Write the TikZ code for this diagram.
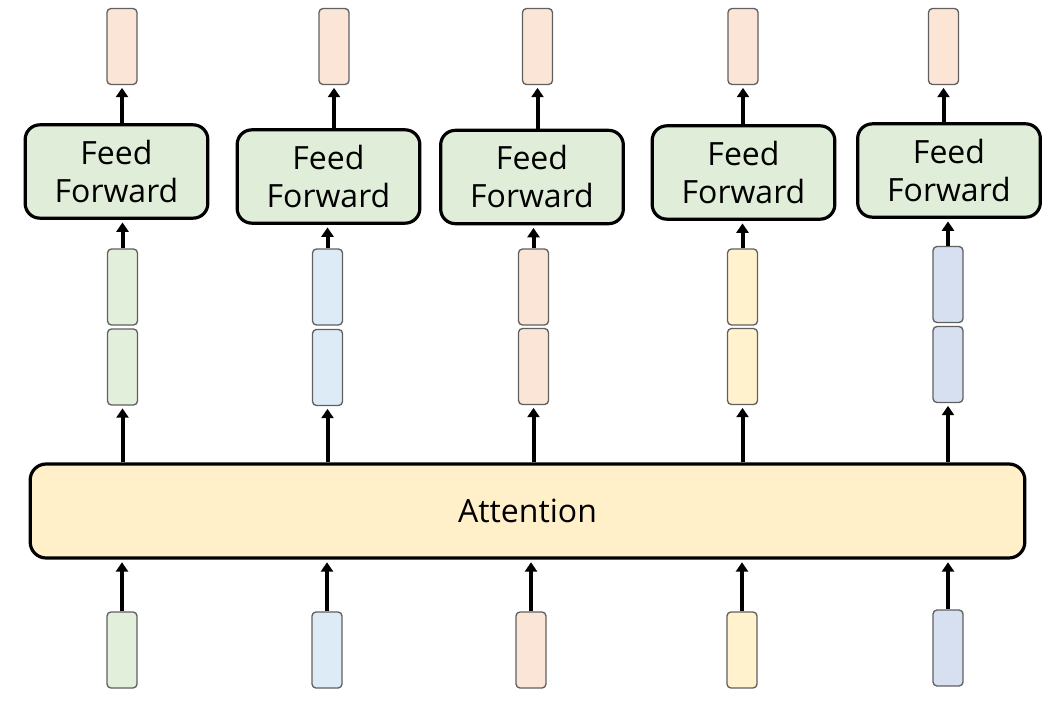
\documentclass[tikz,border=0pt]{standalone}
\usepackage{fontspec}
\setmainfont{Open Sans}
\usetikzlibrary{arrows.meta}
\definecolor{cgreen}{HTML}{E2EFDA}
\definecolor{cblue}{HTML}{DDEBF7}
\definecolor{csalmon}{HTML}{FBE5D6}
\definecolor{cyellow}{HTML}{FFF2CC}
\definecolor{cgblue}{HTML}{D6E0F1}
\definecolor{ffgreen}{HTML}{E0EDD8}
\definecolor{attyellow}{HTML}{FFF0C9}
\definecolor{vborder}{HTML}{606060}
\tikzset{
  vec/.style={draw=vborder, line width=1pt, rounded corners=3pt, minimum width=22.5pt, minimum height=57pt, inner sep=0pt},
  ffbox/.style={draw=black, line width=2.4pt, rounded corners=11pt, fill=ffgreen, minimum width=137pt, minimum height=70pt, inner sep=0pt, align=center, font=\fontsize{24}{28.5}\selectfont},
  attbox/.style={draw=black, line width=2.4pt, rounded corners=12pt, fill=attyellow, minimum width=746pt, minimum height=70.5pt, inner sep=0pt, font=\fontsize{24}{28.5}\selectfont},
  arr/.style={line width=3pt, -{Triangle[width=9pt,length=7pt]}, shorten >=2pt}
}
\begin{document}
\begin{tikzpicture}[x=0.75pt,y=-0.75pt]
\useasboundingbox (0,0) rectangle (1046,706);
% attention
\node[attbox] (att) at (527.5,511) {Attention};
% column 1
\node[vec, fill=csalmon] (t1) at (122,46.5) {};
\node[ffbox] (f1) at (116.5,171.5) {Feed\\Forward};
\node[vec, fill=cgreen] (u1) at (122.5,287) {};
\node[vec, fill=cgreen] (l1) at (122.5,367) {};
\node[vec, fill=cgreen] (b1) at (122,650) {};
% column 2
\node[vec, fill=csalmon] (t2) at (334,46.5) {};
\node[ffbox] (f2) at (328.5,176.5) {Feed\\Forward};
\node[vec, fill=cblue] (u2) at (327.5,287) {};
\node[vec, fill=cblue] (l2) at (327.5,367.5) {};
\node[vec, fill=cblue] (b2) at (327,650) {};
% column 3
\node[vec, fill=csalmon] (t3) at (537.5,46.5) {};
\node[ffbox] (f3) at (532,177) {Feed\\Forward};
\node[vec, fill=csalmon] (u3) at (533.5,287) {};
\node[vec, fill=csalmon] (l3) at (533.5,366.5) {};
\node[vec, fill=csalmon] (b3) at (531,650) {};
% column 4
\node[vec, fill=csalmon] (t4) at (743,46.5) {};
\node[ffbox] (f4) at (743.5,172.5) {Feed\\Forward};
\node[vec, fill=cyellow] (u4) at (742.5,287) {};
\node[vec, fill=cyellow] (l4) at (742.5,366.5) {};
\node[vec, fill=cyellow] (b4) at (742,650) {};
% column 5
\node[vec, fill=csalmon] (t5) at (943.5,46.5) {};
\node[ffbox] (f5) at (949,170.5) {Feed\\Forward};
\node[vec, fill=cgblue] (u5) at (948,284.5) {};
\node[vec, fill=cgblue] (l5) at (948,364.5) {};
\node[vec, fill=cgblue] (b5) at (948,648) {};
% arrows
\foreach \i in {1,...,5}{
  \draw[arr] (b\i.north) -- (att.south -| b\i.north);
  \draw[arr] (att.north -| l\i.south) -- (l\i.south);
  \draw[arr] (u\i.north) -- (f\i.south -| u\i.north);
  \draw[arr] (f\i.north -| t\i.south) -- (t\i.south);
}
\end{tikzpicture}
\end{document}
